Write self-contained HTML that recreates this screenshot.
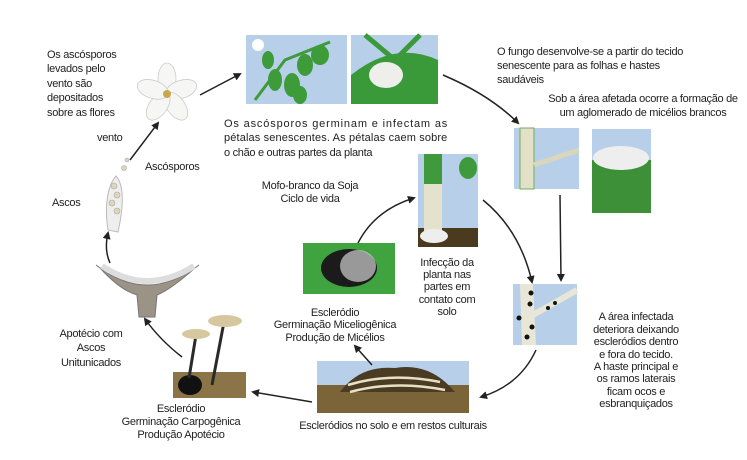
<!DOCTYPE html>
<html><head><meta charset="utf-8"><style>
body{margin:0;background:#fff;}
svg{display:block;font-family:"Liberation Sans",sans-serif;font-size:11px;fill:#222;}
text{letter-spacing:-0.3px;}
</style></head><body>
<svg width="747" height="460" viewBox="0 0 747 460" xmlns="http://www.w3.org/2000/svg">
<defs><marker id="a" markerWidth="8" markerHeight="8" refX="6" refY="4" orient="auto" markerUnits="userSpaceOnUse"><path d="M0,0 L8,4 L0,8 z" fill="#222"/></marker></defs>

<!-- left text -->
<text x="47" y="58">Os ascósporos</text>
<text x="47" y="72">levados pelo</text>
<text x="47" y="87">vento são</text>
<text x="47" y="101">depositados</text>
<text x="47" y="116">sobre as flores</text>
<text x="97" y="141">vento</text>
<text x="145" y="170">Ascósporos</text>
<text x="52" y="206">Ascos</text>

<!-- flower -->
<g transform="translate(167,94)">
<g fill="#f6f6f4" stroke="#ccc" stroke-width="0.8">
<ellipse cx="0" cy="-15" rx="9" ry="16"/>
<ellipse cx="0" cy="-15" rx="9" ry="16" transform="rotate(72)"/>
<ellipse cx="0" cy="-15" rx="9" ry="16" transform="rotate(144)"/>
<ellipse cx="0" cy="-15" rx="9" ry="16" transform="rotate(216)"/>
<ellipse cx="0" cy="-15" rx="9" ry="16" transform="rotate(288)"/>
</g><circle r="4" fill="#c9a84a"/></g>

<!-- asco -->
<path d="M108,230 C104,205 108,185 116,176 C124,185 124,205 118,232 Z" fill="#eee" stroke="#bbb"/>
<g fill="#ddd6b8" stroke="#aaa" stroke-width="0.6"><circle cx="114" cy="186" r="3"/><circle cx="117" cy="195" r="3"/><circle cx="112" cy="203" r="3"/><circle cx="117" cy="211" r="3"/><circle cx="124" cy="168" r="2.5"/><circle cx="127" cy="160" r="2"/></g>

<!-- top images -->
<rect x="246" y="35" width="101" height="69" fill="#b7cfe9"/>
<path d="M255,100 L285,60 L330,42" stroke="#3f9a3a" stroke-width="3" fill="none"/>
<g fill="#3d9b3a"><ellipse cx="275" cy="80" rx="7" ry="11"/><ellipse cx="292" cy="85" rx="8" ry="12"/><ellipse cx="305" cy="65" rx="8" ry="11"/><ellipse cx="320" cy="55" rx="9" ry="10"/><ellipse cx="300" cy="95" rx="7" ry="9"/><ellipse cx="268" cy="60" rx="6" ry="9"/></g>
<circle cx="258" cy="45" r="6" fill="#fff"/>
<rect x="351" y="35" width="87" height="69" fill="#b7cfe9"/>
<path d="M351,104 L351,75 Q395,40 438,60 L438,104 Z" fill="#3a9a3a"/>
<ellipse cx="386" cy="75" rx="17" ry="13" fill="#eeeeea"/>
<path d="M365,35 L395,60 M420,35 L395,60" stroke="#3a9a3a" stroke-width="5"/>

<!-- middle text -->
<text x="224" y="127" textLength="223" lengthAdjust="spacing">Os ascósporos germinam e infectam as</text>
<text x="224" y="141" textLength="223" lengthAdjust="spacing">pétalas senescentes. As pétalas caem sobre</text>
<text x="224" y="156">o chão e outras partes da planta</text>

<!-- right top text -->
<text x="497" y="55">O fungo desenvolve-se a partir do tecido</text>
<text x="497" y="69">senescente para as folhas e hastes</text>
<text x="497" y="83">saudáveis</text>
<text x="643" y="102" text-anchor="middle">Sob a área afetada ocorre a formação de</text>
<text x="643" y="116" text-anchor="middle">um aglomerado de micélios brancos</text>

<!-- right images -->
<rect x="514" y="128" width="65" height="61" fill="#b7cfe9"/>
<rect x="520" y="128" width="14" height="61" fill="#e3e0c8" stroke="#6fae5b"/>
<path d="M534,165 L579,150" stroke="#d9d6bc" stroke-width="5"/>
<rect x="592" y="129" width="59" height="84" fill="#b7cfe9"/>
<rect x="592" y="160" width="59" height="53" fill="#3d8f38"/>
<ellipse cx="621" cy="158" rx="28" ry="12" fill="#eeeeee"/>
<path d="M560,195 L561,280" stroke="#222" stroke-width="1.5" marker-end="url(#a)"/>

<!-- center -->
<text x="310" y="189" text-anchor="middle">Mofo-branco da Soja</text>
<text x="310" y="202" text-anchor="middle">Ciclo de vida</text>
<rect x="418" y="154" width="60" height="93" fill="#b7cfe9"/>
<rect x="418" y="228" width="60" height="19" fill="#4a3a1e"/>
<rect x="424" y="154" width="18" height="80" fill="#e4e2cc"/>
<rect x="424" y="154" width="18" height="30" fill="#3e9a3a"/>
<ellipse cx="468" cy="168" rx="9" ry="11" fill="#3e9a3a"/>
<ellipse cx="434" cy="236" rx="14" ry="7" fill="#eee"/>
<text text-anchor="middle" x="447" y="266">Infecção da</text>
<text text-anchor="middle" x="447" y="278">planta nas</text>
<text text-anchor="middle" x="447" y="290">partes em</text>
<text text-anchor="middle" x="447" y="303">contato com</text>
<text text-anchor="middle" x="447" y="315">solo</text>

<rect x="303" y="243" width="92" height="51" fill="#3fa43f"/>
<ellipse cx="349" cy="268" rx="28" ry="19" fill="#1b1b1b"/>
<ellipse cx="358" cy="266" rx="18" ry="16" fill="#cfcfcf" opacity="0.7"/>
<text text-anchor="middle" x="335" y="316">Escleródio</text>
<text text-anchor="middle" x="335" y="328">Germinação Miceliogênica</text>
<text text-anchor="middle" x="335" y="341">Produção de Micélios</text>

<!-- stem sclerotia -->
<rect x="513" y="284" width="64" height="61" fill="#b7cfe9"/>
<path d="M520,284 L533,284 L536,345 L522,345 Z" fill="#e8e6d6"/>
<path d="M533,315 L577,290" stroke="#e8e6d6" stroke-width="6"/>
<g fill="#111"><circle cx="531" cy="293" r="2.5"/><circle cx="530" cy="304" r="2.5"/><circle cx="519" cy="318" r="2.5"/><circle cx="532" cy="327" r="2.5"/><circle cx="527" cy="337" r="2.5"/><circle cx="548" cy="308" r="2"/><circle cx="555" cy="303" r="2"/></g>
<g text-anchor="middle"><text x="636" y="320">A área infectada</text><text x="636" y="333">deteriora deixando</text><text x="636" y="345">escleródios dentro</text><text x="636" y="358">e fora do tecido.</text><text x="636" y="370">A haste principal e</text><text x="636" y="382">os ramos laterais</text><text x="636" y="395">ficam ocos e</text><text x="636" y="407">esbranquiçados</text></g>

<!-- soil -->
<rect x="317" y="361" width="152" height="52" fill="#b7cfe9"/>
<rect x="317" y="385" width="152" height="28" fill="#7a6438"/>
<path d="M340,392 Q360,365 395,368 Q430,362 455,392 Z" fill="#4a3b25"/>
<path d="M348,385 Q390,372 440,382 M350,392 Q395,380 445,390" stroke="#e8e0c0" stroke-width="2.5" fill="none"/>
<text text-anchor="middle" x="393" y="429">Escleródios no solo e em restos culturais</text>

<!-- mushrooms -->
<rect x="173" y="372" width="73" height="26" fill="#8a7448"/>
<ellipse cx="190" cy="385" rx="12" ry="10" fill="#111"/>
<path d="M189,378 L196,335 M212,385 L224,322" stroke="#2a2a2a" stroke-width="3"/>
<ellipse cx="196" cy="334" rx="14" ry="5" fill="#d6c79e"/>
<ellipse cx="225" cy="321" rx="17" ry="6" fill="#d6c79e"/>
<text text-anchor="middle" x="181" y="412">Escleródio</text>
<text text-anchor="middle" x="181" y="425">Germinação Carpogênica</text>
<text text-anchor="middle" x="181" y="438">Produção Apotécio</text>

<!-- apothecium -->
<path d="M96,265 Q147,305 199,265 L195,268 Q170,290 157,295 L155,317 L139,317 L137,295 Q120,290 100,268 Z" fill="#9a9386" stroke="#777"/>
<path d="M102,266 Q147,296 194,266" stroke="#ddd" stroke-width="6" fill="none"/>
<text text-anchor="middle" x="91" y="337">Apotécio com</text>
<text text-anchor="middle" x="91" y="351">Ascos</text>
<text text-anchor="middle" x="91" y="366">Unitunicados</text>

<!-- arrows -->
<g stroke="#222" stroke-width="1.5" fill="none" marker-end="url(#a)">
<path d="M130,160 L158,123"/>
<path d="M200,95 L240,74"/>
<path d="M443,75 Q490,95 518,123"/>
<path d="M483,200 Q520,230 532,282"/>
<path d="M536,350 Q520,385 481,397"/>
<path d="M312,402 L253,392"/>
<path d="M372,365 L355,346"/>
<path d="M182,357 Q160,340 145,319"/>
<path d="M110,263 Q104,250 108,233"/>
<path d="M358,243 Q375,210 414,198"/>
</g>
</svg>
</body></html>
